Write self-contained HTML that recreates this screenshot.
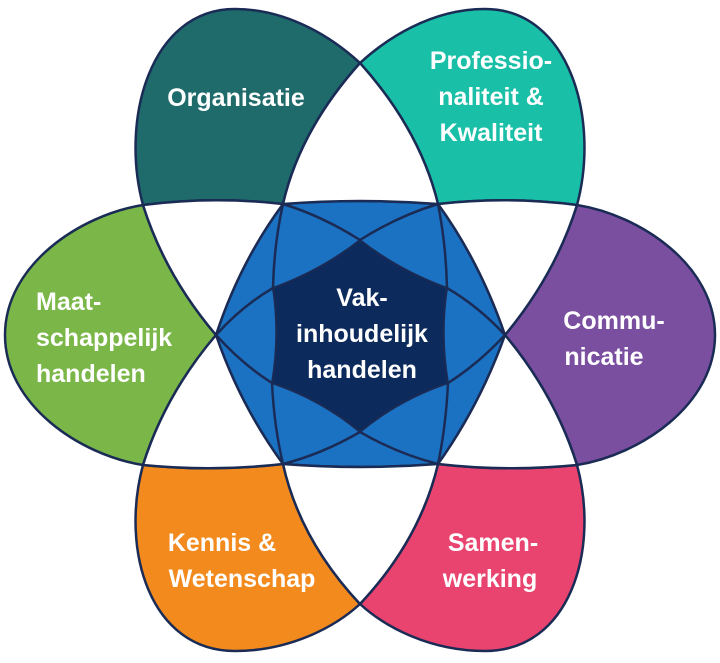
<!DOCTYPE html>
<html><head><meta charset="utf-8"><style>
html,body{margin:0;padding:0;background:#fff;width:720px;height:663px;overflow:hidden}
svg{display:block;overflow:hidden}
text{font-family:"Liberation Sans",sans-serif;font-weight:bold;font-size:25px;fill:#fff;text-anchor:middle}
</style></head><body>
<svg width="720" height="663" viewBox="0 0 720 663">
<g stroke="#1a2b55" stroke-width="2.5" stroke-linejoin="round">
<path fill="#1f6b6b" d="M143,205 C120,120 150,9 235,9 C290,9 335,40 360,63 Q300,130 283,204 Q213,196 143,205Z"/>
<path fill="#19bfa6" d="M577,205 C600,120 570,9 485,9 C430,9 385,40 360,63 Q420,130 438,204 Q507,196 577,205Z"/>
<path fill="#7ab648" d="M143,205 C80,215 5,265 5,335 C5,405 80,455 143,465 Q165,395 216,335 Q165,275 143,205Z"/>
<path fill="#7b4fa0" d="M577,205 C640,215 715,265 715,335 C715,405 640,455 577,465 Q555,395 505,335 Q555,275 577,205Z"/>
<path fill="#f28a1e" d="M143,465 Q213,472 283,464 Q300,540 360,604 C335,627 290,651 235,651 C150,651 120,550 143,465Z"/>
<path fill="#e8446f" d="M577,465 Q507,472 438,464 Q420,540 360,604 C385,627 430,651 485,651 C570,651 600,550 577,465Z"/>
<path fill="#1c72c2" d="M283,204 Q360,198 438,204 Q480,262 505,335 Q480,405 438,464 Q360,470 283,464 Q240,405 216,335 Q240,262 283,204Z"/>
<path fill="#fff" d="M283,204 Q300,130 360,63 Q420,130 438,204 Q360,198 283,204Z"/>
<path fill="#fff" d="M283,464 Q300,540 360,604 Q420,540 438,464 Q360,470 283,464Z"/>
<path fill="#fff" d="M143,205 Q213,196 283,204 Q240,262 216,335 Q165,275 143,205Z"/>
<path fill="#fff" d="M577,205 Q507,196 438,204 Q480,262 505,335 Q555,275 577,205Z"/>
<path fill="#fff" d="M143,465 Q213,472 283,464 Q240,405 216,335 Q165,395 143,465Z"/>
<path fill="#fff" d="M577,465 Q507,472 438,464 Q480,405 505,335 Q555,395 577,465Z"/>
</g>
<g fill="none" stroke="#1a2b55" stroke-width="2.5">
<path d="M216,335 Q242,306 273,288 M360,240 Q398,216 438,204"/>
<path d="M505,335 Q478,306 447,288 M360,240 Q322,216 283,204"/>
<path d="M216,335 Q242,364 272,383 M360,432 Q398,454 438,464"/>
<path d="M505,335 Q478,364 448,383 M360,432 Q322,454 283,464"/>
<path d="M283,204 Q274,244 273,288 M272,383 Q274,426 283,464"/>
<path d="M438,204 Q446,244 447,288 M448,383 Q446,426 438,464"/>
</g>
<path d="M360,240 Q398,270 447,288 Q440,335 448,383 Q398,400 360,432 Q322,400 272,383 Q280,335 273,288 Q322,270 360,240Z" fill="#0d2a5c" stroke="#1a2b55" stroke-width="2"/>
<text x="236" y="106">Organisatie</text>
<text x="491" y="69">Professio-</text>
<text x="491" y="105">naliteit &amp;</text>
<text x="491" y="141">Kwaliteit</text>
<text x="614" y="329">Commu-</text>
<text x="604" y="365">nicatie</text>
<text x="493" y="551">Samen-</text>
<text x="490" y="587">werking</text>
<text x="222" y="551">Kennis &amp;</text>
<text x="242" y="587">Wetenschap</text>
<text x="36" y="310" style="text-anchor:start">Maat-</text>
<text x="36" y="346" style="text-anchor:start">schappelijk</text>
<text x="36" y="382" style="text-anchor:start">handelen</text>
<text x="362" y="306">Vak-</text>
<text x="362" y="342">inhoudelijk</text>
<text x="362" y="378">handelen</text>
</svg>
</body></html>
